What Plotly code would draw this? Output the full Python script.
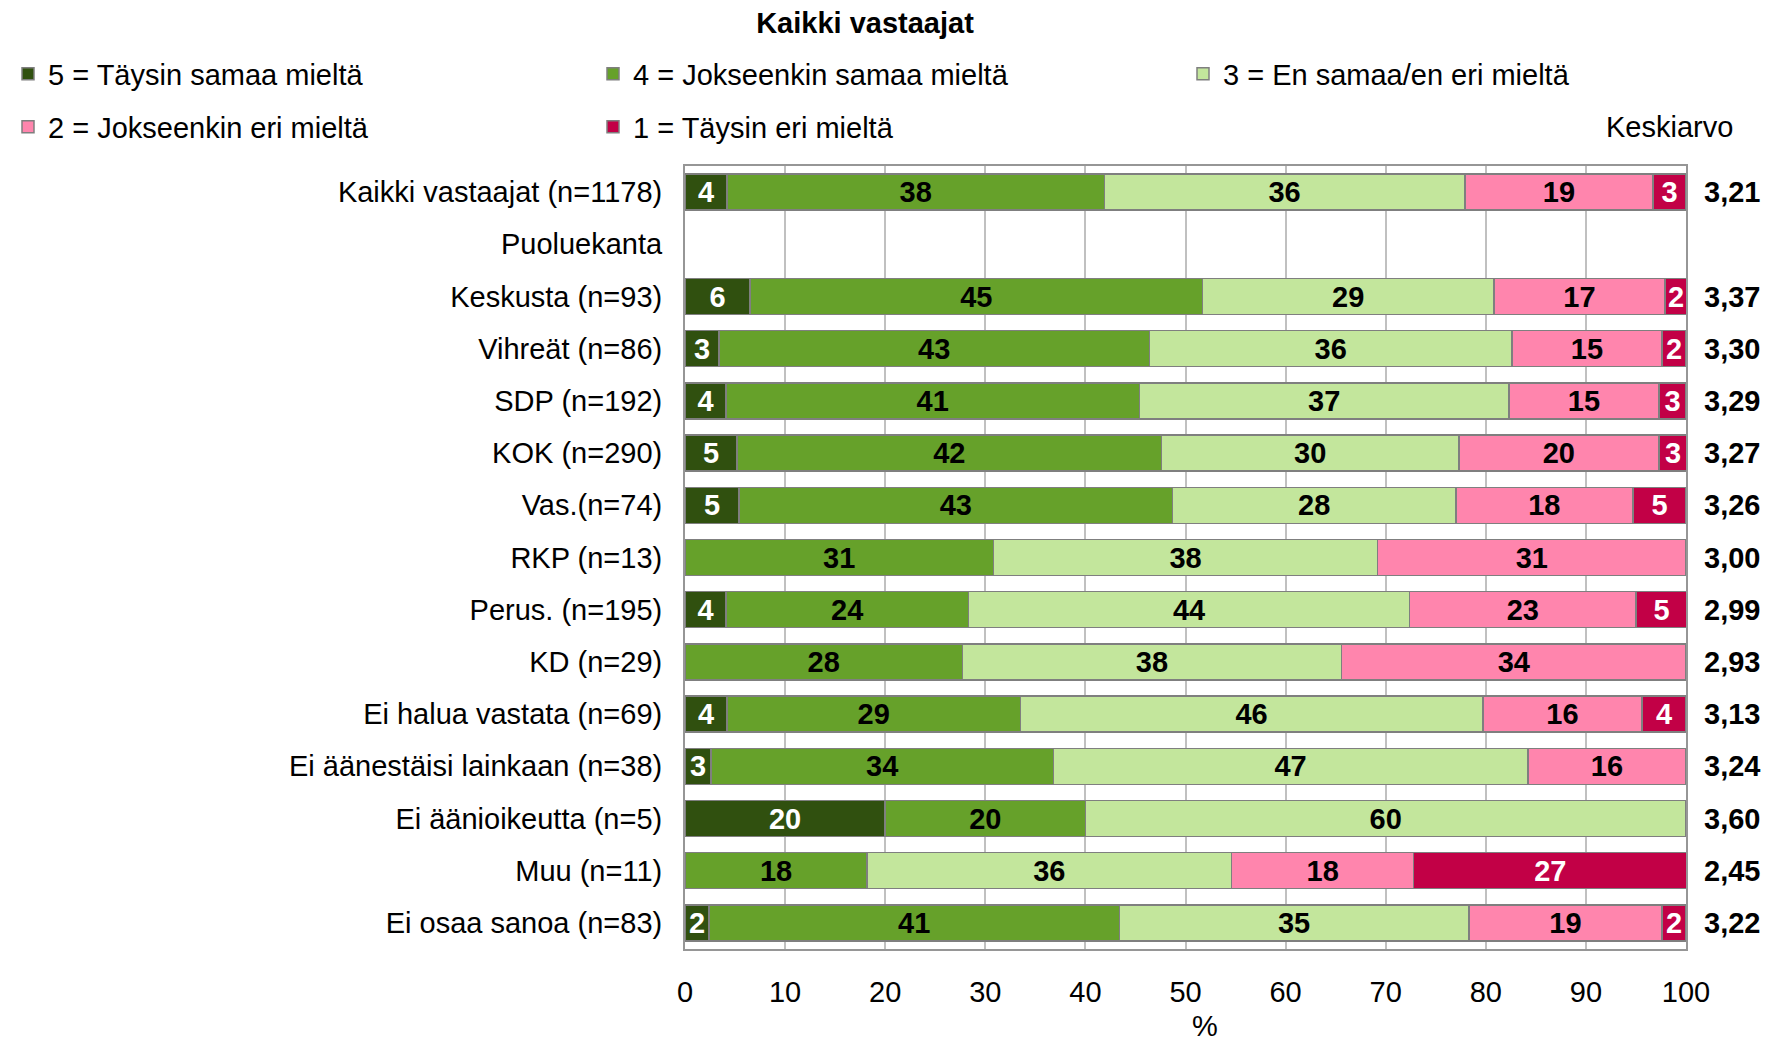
import plotly.graph_objects as go

categories = [
    "Kaikki vastaajat (n=1178)", "Puoluekanta", "Keskusta (n=93)", "Vihreät (n=86)",
    "SDP (n=192)", "KOK (n=290)", "Vas.(n=74)", "RKP (n=13)", "Perus. (n=195)",
    "KD (n=29)", "Ei halua vastata (n=69)", "Ei äänestäisi lainkaan (n=38)",
    "Ei äänioikeutta (n=5)", "Muu (n=11)", "Ei osaa sanoa (n=83)",
]
s5 = [4.2, None, 6.5, 3.4, 4.1, 5.2, 5.4, 0, 4.1, 0, 4.2, 2.6, 20.0, 0, 2.4]
s4 = [37.7, None, 45.2, 43.0, 41.3, 42.4, 43.3, 30.8, 24.2, 27.7, 29.3, 34.2, 20.0, 18.2, 41.0]
s3 = [36.0, None, 29.1, 36.2, 36.9, 29.7, 28.3, 38.4, 44.1, 37.9, 46.2, 47.4, 60.0, 36.4, 34.9]
s2 = [18.8, None, 17.1, 15.0, 15.0, 20.0, 17.7, 30.8, 22.6, 34.4, 15.9, 15.8, 0, 18.2, 19.3]
s1 = [3.3, None, 2.2, 2.4, 2.7, 2.8, 5.3, 0, 5.1, 0, 4.4, 0, 0, 27.3, 2.4]
means = ["3,21", "", "3,37", "3,30", "3,29", "3,27", "3,26", "3,00", "2,99", "2,93",
         "3,13", "3,24", "3,60", "2,45", "3,22"]
series_names = ["5 = Täysin samaa mieltä", "4 = Jokseenkin samaa mieltä",
                "3 = En samaa/en eri mieltä", "2 = Jokseenkin eri mieltä", "1 = Täysin eri mieltä"]
colors = ["#30500F", "#66A12A", "#C3E69C", "#FF85AD", "#C20046"]
text_colors = ["white", "black", "black", "black", "white"]
legend_ids = ["legend", "legend2", "legend3", "legend4", "legend5"]

FONT = "Liberation Sans, Arial, sans-serif"
FS = 29
W, H = 1768, 1036  # page body has an 8px margin

fig = go.Figure()
for name, vals, col, tcol, lg in zip(series_names, [s5, s4, s3, s2, s1], colors, text_colors, legend_ids):
    txt = [("" if (v is None or v == 0) else str(int(round(v)))) for v in vals]
    fig.add_trace(go.Bar(
        y=categories, x=vals, name=name, orientation="h", legend=lg,
        marker=dict(color=col, line=dict(color="#7F7F7F", width=1.5)),
        text=txt, textposition="inside", insidetextanchor="middle",
        textangle=0, constraintext="none",
        textfont=dict(family=FONT, size=FS, color=tcol, weight="bold"),
        hoverinfo="x+y",
    ))

for cat, m in zip(categories, means):
    if m:
        fig.add_annotation(x=1.0, xref="paper", xanchor="left", xshift=16, y=cat, yref="y",
                           text=m, showarrow=False,
                           font=dict(family=FONT, size=FS, color="black", weight="bold"))

fig.add_annotation(x=1.0, xref="paper", xanchor="right", xshift=49, y=1.0498, yref="paper",
                   yanchor="middle", text="Keskiarvo", showarrow=False,
                   font=dict(family=FONT, size=FS, color="black"))

fig.add_annotation(x=0.519, xref="paper", xanchor="center", y=-0.0985, yref="paper",
                   yanchor="middle", text="%", showarrow=False,
                   font=dict(family=FONT, size=FS, color="black"))

legend_common = dict(orientation="v", xref="container", yref="container",
                     xanchor="left", yanchor="middle",
                     font=dict(family=FONT, size=FS), itemwidth=30,
                     bgcolor="rgba(0,0,0,0)")
row_y = [1 - 66 / H, 1 - 119 / H]
col_x = [0.0, 585 / W, 1175 / W]
legend_pos = [(col_x[0], row_y[0]), (col_x[1], row_y[0]), (col_x[2], row_y[0]),
              (col_x[0], row_y[1]), (col_x[1], row_y[1])]

layout_legends = {}
for lg, (lx, ly) in zip(legend_ids, legend_pos):
    layout_legends[lg] = dict(legend_common, x=lx, y=ly)

fig.update_layout(
    width=W, height=H,
    barmode="stack", bargap=0.31,
    plot_bgcolor="white", paper_bgcolor="white",
    margin=dict(l=677, r=90, t=158, b=95, autoexpand=False),
    font=dict(family=FONT, size=FS, color="black"),
    title=dict(text="<b>Kaikki vastaajat</b>", x=857 / W, xanchor="center", y=1 - 15 / H,
               yanchor="middle", font=dict(family=FONT, size=FS, color="black")),
    showlegend=True,
    **layout_legends,
)
fig.update_xaxes(range=[0, 100], dtick=10, showgrid=True, gridcolor="#C0C0C0", gridwidth=1.5,
                 showline=True, linecolor="#969696", linewidth=2, mirror=True, zeroline=False,
                 ticks="", ticklabelstandoff=16,
                 tickfont=dict(family=FONT, size=FS))
fig.update_yaxes(categoryorder="array", categoryarray=categories, autorange="reversed",
                 showline=True, linecolor="#969696", linewidth=2, mirror=True, showgrid=False,
                 ticks="", ticklabelstandoff=15, tickfont=dict(family=FONT, size=FS))

fig.write_html("out.html")
